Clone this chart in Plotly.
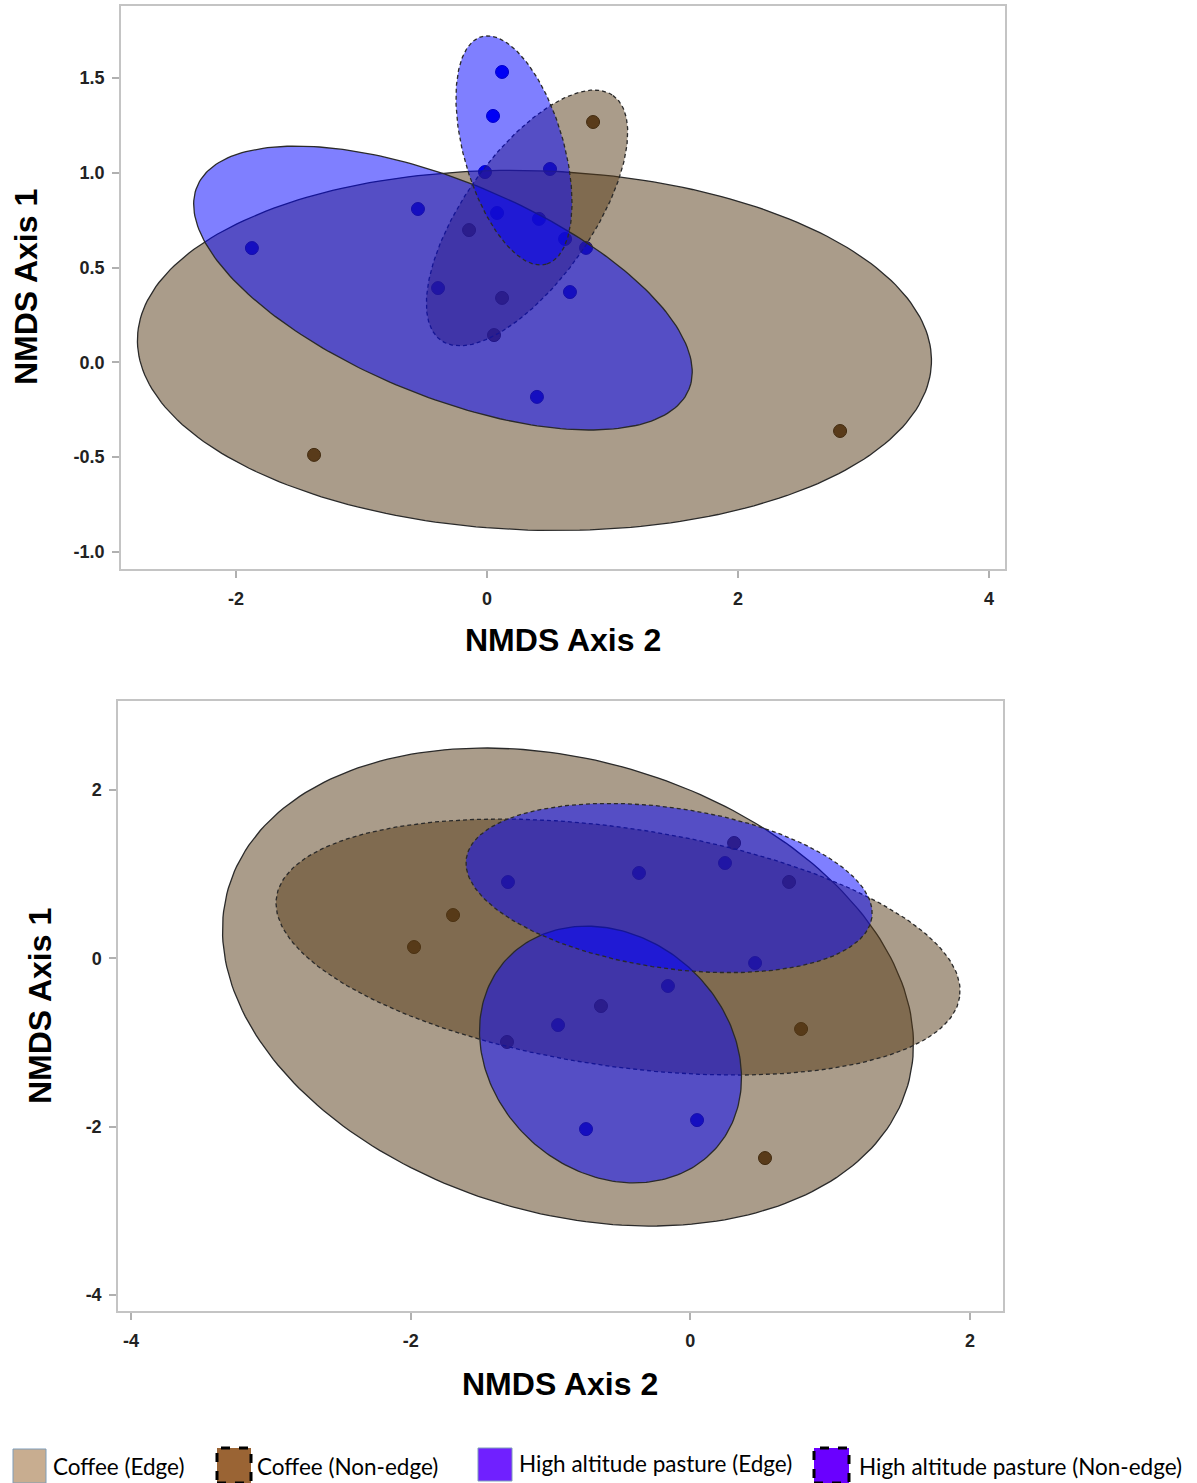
import numpy as np
import plotly.graph_objects as go

W, H = 1197, 1483

# ---------------- data ----------------
groups = ["Coffee (Edge)", "Coffee (Non-edge)", "High altitude pasture (Edge)", "High altitude pasture (Non-edge)"]

# Panel 1 (top) points
p1_coffee_edge_x = [-1.378, 2.813]
p1_coffee_edge_y = [-0.488, -0.362]
p1_coffee_non_x = [0.845, -0.143, 0.120, 0.056]
p1_coffee_non_y = [1.268, 0.698, 0.340, 0.144]
p1_hap_edge_x = [0.622, 0.789, -0.550, -1.873, 0.661, 0.398, -0.390]
p1_hap_edge_y = [0.651, 0.604, 0.809, 0.603, 0.371, -0.182, 0.392]
p1_hap_non_x = [0.120, 0.048, -0.016, 0.502, 0.080, 0.414]
p1_hap_non_y = [1.532, 1.300, 1.004, 1.020, 0.788, 0.757]

# Panel 2 (bottom) points
p2_coffee_edge_x = [-1.976, 0.534, 0.313, -1.311]
p2_coffee_edge_y = [0.134, -2.373, 1.370, -0.994]
p2_coffee_non_x = [-1.697, 0.792, 0.706, -0.639]
p2_coffee_non_y = [0.514, -0.840, 0.907, -0.567]
p2_hap_edge_x = [-0.160, -0.946, -0.746, 0.048]
p2_hap_edge_y = [-0.329, -0.793, -2.029, -1.922]
p2_hap_non_x = [-1.304, -0.367, 0.248, 0.463]
p2_hap_non_y = [0.906, 1.014, 1.132, -0.056]

# Ellipses: centre and two conjugate semi-axis vectors (data units), order = groups
p1_ell_cx = [0.378, 0.319, -0.351, 0.215]
p1_ell_cy = [0.063, 0.762, 0.392, 1.118]
p1_ell_ux = [3.163, 0.685, 1.960, 0.259]
p1_ell_uy = [-0.044, 0.646, -0.534, -0.600]
p1_ell_vx = [-0.030, 0.417, -0.321, -0.383]
p1_ell_vy = [0.949, -0.194, -0.525, -0.073]

p2_ell_cx = [-0.875, -0.517, -0.571, -0.152]
p2_ell_cy = [-0.341, 0.134, -1.143, 0.835]
p2_ell_ux = [2.429, 2.443, 0.751, 1.450]
p2_ell_uy = [-1.173, -0.592, -1.119, -0.352]
p2_ell_vx = [-0.452, -0.123, -0.560, -0.083]
p2_ell_vy = [-2.586, -1.401, -1.036, -0.942]

p1_xticks = [-2, 0, 2, 4]
p1_yticks = [-1.0, -0.5, 0.0, 0.5, 1.0, 1.5]
p2_xticks = [-4, -2, 0, 2]
p2_yticks = [-4, -2, 0, 2]

# ---------------- styles ----------------
coffee_pt = "rgb(92,60,30)"
coffee_pt_line = "rgb(45,28,10)"
hap_pt = "rgb(0,0,235)"
hap_pt_line = "rgb(0,0,150)"
coffee_fill = "rgba(85,57,21,0.5)"
hap_fill = "rgba(0,0,255,0.5)"
fills = [coffee_fill, coffee_fill, hap_fill, hap_fill]
dashes = ["solid", "4px,3px", "solid", "4px,3px"]

fig = go.Figure()


def add_points(xs, ys, color, lcolor, xa, ya):
    fig.add_trace(go.Scatter(x=xs, y=ys, mode="markers", xaxis=xa, yaxis=ya,
                             marker=dict(size=13, color=color, line=dict(color=lcolor, width=1)),
                             showlegend=False, hoverinfo="skip"))


def add_ellipses(cx, cy, ux, uy, vx, vy, xa, ya):
    t = np.linspace(0, 2 * np.pi, 241)
    for i in range(4):
        ex = cx[i] + ux[i] * np.cos(t) + vx[i] * np.sin(t)
        ey = cy[i] + uy[i] * np.cos(t) + vy[i] * np.sin(t)
        fig.add_trace(go.Scatter(x=ex, y=ey, mode="lines", fill="toself", fillcolor=fills[i],
                                 line=dict(color="#2a2a2a", width=1.3, dash=dashes[i]),
                                 xaxis=xa, yaxis=ya, showlegend=False, hoverinfo="skip",
                                 name=groups[i]))


# top panel
add_points(p1_coffee_edge_x, p1_coffee_edge_y, coffee_pt, coffee_pt_line, "x", "y")
add_points(p1_coffee_non_x, p1_coffee_non_y, coffee_pt, coffee_pt_line, "x", "y")
add_points(p1_hap_edge_x, p1_hap_edge_y, hap_pt, hap_pt_line, "x", "y")
add_points(p1_hap_non_x, p1_hap_non_y, hap_pt, hap_pt_line, "x", "y")
add_ellipses(p1_ell_cx, p1_ell_cy, p1_ell_ux, p1_ell_uy, p1_ell_vx, p1_ell_vy, "x", "y")

# bottom panel
add_points(p2_coffee_edge_x, p2_coffee_edge_y, coffee_pt, coffee_pt_line, "x2", "y2")
add_points(p2_coffee_non_x, p2_coffee_non_y, coffee_pt, coffee_pt_line, "x2", "y2")
add_points(p2_hap_edge_x, p2_hap_edge_y, hap_pt, hap_pt_line, "x2", "y2")
add_points(p2_hap_non_x, p2_hap_non_y, hap_pt, hap_pt_line, "x2", "y2")
add_ellipses(p2_ell_cx, p2_ell_cy, p2_ell_ux, p2_ell_uy, p2_ell_vx, p2_ell_vy, "x2", "y2")


def px(x):
    return x / W


def py(y):
    return 1 - y / H


tickfont = dict(family="Liberation Sans, Arial, sans-serif", size=18, color="#222222", weight="bold")
axis_common = dict(showgrid=False, zeroline=False, showline=True, mirror=True,
                   linecolor="#c4c4c4", linewidth=1.5, ticks="outside", ticklen=7,
                   tickcolor="#b0b0b0", tickwidth=1.5, tickfont=tickfont)

fig.update_layout(
    width=W, height=H, margin=dict(l=0, r=0, t=0, b=0),
    paper_bgcolor="white", plot_bgcolor="white", showlegend=False,
    xaxis=dict(domain=[px(121), px(1005)], range=[-2.916, 4.127], tickvals=p1_xticks,
               ticktext=[str(v) for v in p1_xticks], anchor="y", ticklabelstandoff=6, **axis_common),
    yaxis=dict(domain=[py(569), py(6)], range=[-1.090, 1.880], tickvals=p1_yticks,
               ticktext=[f"{v:.1f}" for v in p1_yticks], anchor="x", ticklabelstandoff=4, **axis_common),
    xaxis2=dict(domain=[px(118), px(1003)], range=[-4.093, 2.236], tickvals=p2_xticks,
                ticktext=[str(v) for v in p2_xticks], anchor="y2", ticklabelstandoff=6, **axis_common),
    yaxis2=dict(domain=[py(1311), py(701)], range=[-4.190, 3.057], tickvals=p2_yticks,
                ticktext=[str(v) for v in p2_yticks], anchor="x2", ticklabelstandoff=4, **axis_common),
)

title_font = dict(family="Liberation Sans, Arial, sans-serif", size=32, color="black", weight="bold")
ann = [
    dict(x=px(563), y=py(640), text="NMDS Axis 2", textangle=0),
    dict(x=px(26), y=py(287), text="NMDS Axis 1", textangle=-90),
    dict(x=px(560), y=py(1384), text="NMDS Axis 2", textangle=0),
    dict(x=px(40), y=py(1006), text="NMDS Axis 1", textangle=-90),
]
for a in ann:
    fig.add_annotation(xref="paper", yref="paper", showarrow=False, font=title_font,
                       xanchor="center", yanchor="middle", **a)

# manual legend
leg_font = dict(family="Lato, Calibri, sans-serif", size=22.5, color="black")
swatches = [
    (13, 1449, 46, 1483, "#c8ad90", "#7f9db9", 1, "solid", 51, 1466),
    (217, 1448, 251, 1483, "#9a6434", "black", 3, "dash", 255, 1466),
    (478, 1448, 512, 1481, "#7020ff", "#7f9db9", 1, "solid", 517, 1463),
    (814, 1448, 849, 1483, "#6a00ff", "black", 3, "dash", 857, 1466),
]
for (x0, y0, x1, y1, fc, lc, lw, ld, tx, ty), g in zip(swatches, groups):
    fig.add_shape(type="rect", xref="paper", yref="paper", x0=px(x0), x1=px(x1), y0=py(y1), y1=py(y0),
                  fillcolor=fc, line=dict(color=lc, width=lw, dash=ld), layer="above")
    fig.add_annotation(xref="paper", yref="paper", x=px(tx), y=py(ty), text=g, showarrow=False,
                       xanchor="left", yanchor="middle", font=leg_font)

fig.write_html("out.html")
